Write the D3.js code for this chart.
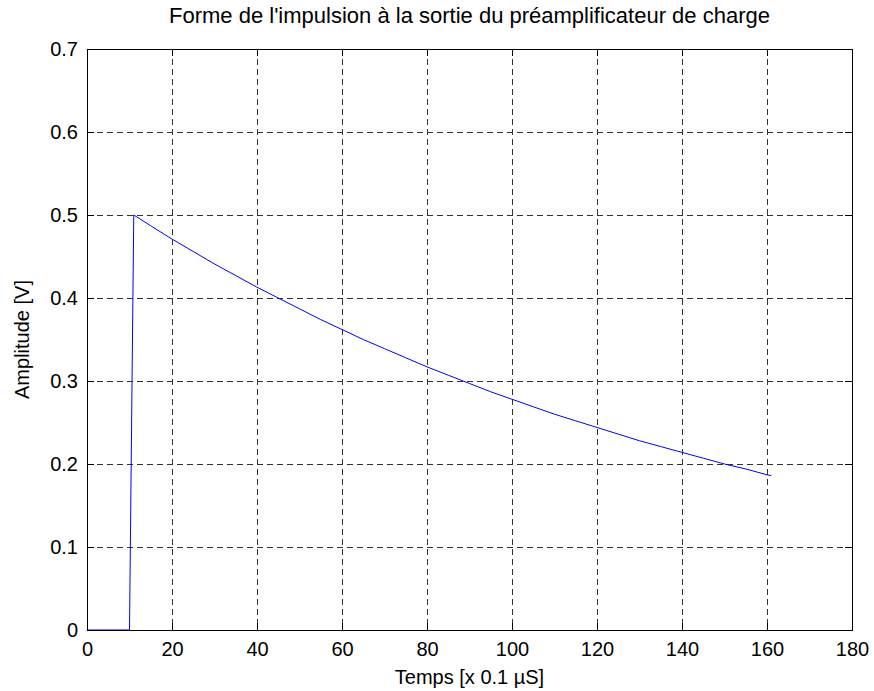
<!DOCTYPE html>
<head>
  <meta charset="UTF-8">
  <title>Forme de l'impulsion</title>
  <script src="https://d3js.org/d3.v7.min.js"></script>
  <style>
    body { margin:0; background:#fff; }
    text { font-family: "Liberation Sans", Arial, sans-serif; fill:#000; }
  </style>
</head>
<body>
  <div id="graphContainer"></div>
  <script>
    // Data (time in units of 0.1 µs, amplitude in V)
    const temps = [0, 10, 11, 15, 20, 25, 30, 35, 40, 45, 50, 55, 60, 65, 70, 75, 80,
                   85, 90, 95, 100, 105, 110, 115, 120, 125, 130, 135, 140, 145, 150,
                   155, 160, 161];
    const amplitude = [0, 0, 0.500, 0.487, 0.471, 0.456, 0.441, 0.427, 0.413, 0.400,
                       0.387, 0.374, 0.362, 0.350, 0.339, 0.328, 0.317, 0.307, 0.297,
                       0.287, 0.278, 0.269, 0.260, 0.252, 0.244, 0.236, 0.228, 0.221,
                       0.214, 0.207, 0.200, 0.194, 0.187, 0.186];
    const xTicks = [0, 20, 40, 60, 80, 100, 120, 140, 160, 180];
    const yTicks = [0, 0.1, 0.2, 0.3, 0.4, 0.5, 0.6, 0.7];

    const W = 874, H = 691;
    const margin = {top: 49, right: 22, bottom: 61, left: 87};
    const width = W - margin.left - margin.right,
          height = H - margin.top - margin.bottom;

    const svg = d3.select("#graphContainer")
      .append("svg")
      .attr("width", W)
      .attr("height", H);

    const g = svg.append("g")
      .attr("transform", `translate(${margin.left},${margin.top})`);

    const x = d3.scaleLinear().domain([0, 180]).range([0, width]);
    const y = d3.scaleLinear().domain([0, 0.7]).range([height, 0]);

    // grid
    g.append("g").selectAll("line")
      .data(xTicks.slice(1, -1))
      .join("line")
      .attr("x1", d => Math.round(x(d)) + 0.5).attr("x2", d => Math.round(x(d)) + 0.5)
      .attr("y1", 0).attr("y2", height)
      .attr("stroke", "#333").attr("stroke-width", 1).attr("stroke-dasharray", "6,4");
    g.append("g").selectAll("line")
      .data(yTicks.slice(1, -1))
      .join("line")
      .attr("y1", d => Math.round(y(d)) + 0.5).attr("y2", d => Math.round(y(d)) + 0.5)
      .attr("x1", 0).attr("x2", width)
      .attr("stroke", "#333").attr("stroke-width", 1).attr("stroke-dasharray", "6,4");

    // curve
    const pts = temps.map((t, i) => [t, amplitude[i]]);
    g.append("path")
      .datum(pts)
      .attr("fill", "none")
      .attr("stroke", "#0000ff")
      .attr("stroke-width", 1)
      .attr("d", d3.line().x(d => x(d[0])).y(d => y(d[1])));

    // axes, ticks inward (MATLAB style)
    const tl = 7;
    const fs = "20px";
    const xb = g.append("g").attr("transform", `translate(0,${height})`)
      .call(d3.axisBottom(x).tickValues(xTicks).tickSizeInner(-tl).tickSizeOuter(0).tickPadding(12));
    const xt = g.append("g")
      .call(d3.axisTop(x).tickValues(xTicks).tickSizeInner(-tl).tickSizeOuter(0).tickFormat(""));
    const yl = g.append("g")
      .call(d3.axisLeft(y).tickValues(yTicks).tickSizeInner(-tl).tickSizeOuter(0).tickPadding(9)
        .tickFormat(d => d === 0 ? "0" : d3.format(".1f")(d)));
    const yr = g.append("g").attr("transform", `translate(${width},0)`)
      .call(d3.axisRight(y).tickValues(yTicks).tickSizeInner(-tl).tickSizeOuter(0).tickFormat(""));

    [xb, xt, yl, yr].forEach(a => {
      a.select(".domain").remove();
      a.selectAll("line").attr("stroke", "#000");
      a.selectAll("text").style("font-size", fs).style("font-family", "'Liberation Sans', Arial, sans-serif");
    });

    // box
    g.append("rect")
      .attr("x", 0.5).attr("y", 0.5)
      .attr("width", width).attr("height", height)
      .attr("fill", "none").attr("stroke", "#000").attr("stroke-width", 1);

    // labels
    svg.append("text")
      .attr("x", margin.left + width / 2).attr("y", 23)
      .attr("text-anchor", "middle").style("font-size", "22px")
      .text("Forme de l'impulsion à la sortie du préamplificateur de charge");
    svg.append("text")
      .attr("x", margin.left + width / 2).attr("y", 684)
      .attr("text-anchor", "middle").style("font-size", fs)
      .text("Temps [x 0.1 µS]");
    svg.append("text")
      .attr("transform", `translate(29,${margin.top + height / 2}) rotate(-90)`)
      .attr("text-anchor", "middle").style("font-size", fs)
      .text("Amplitude [V]");
  </script>
</body>
